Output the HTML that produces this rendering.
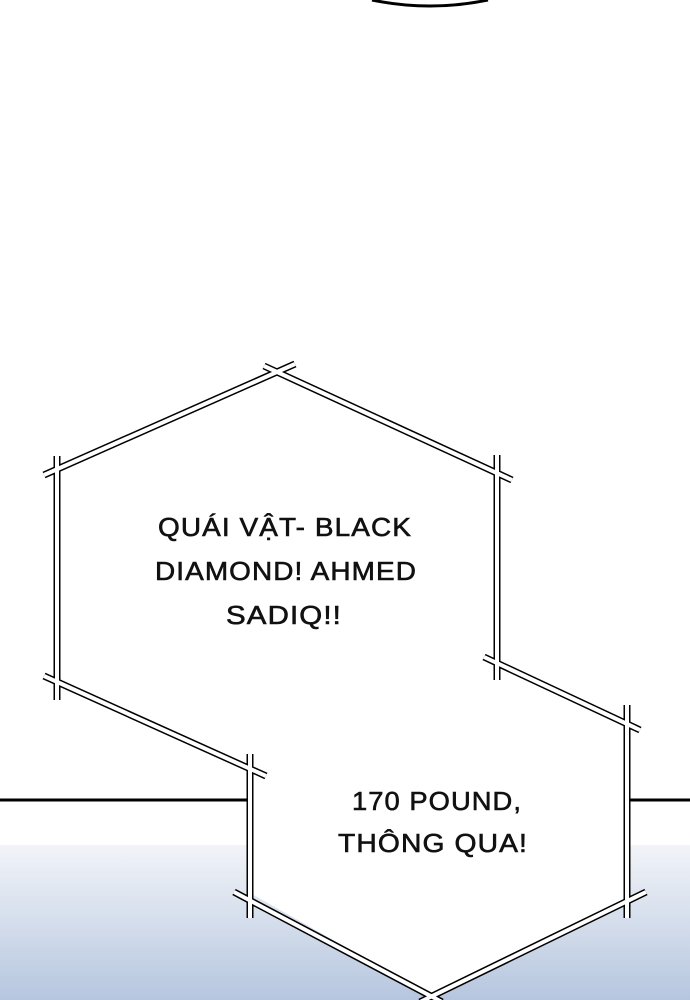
<!DOCTYPE html>
<html><head><meta charset="utf-8"><style>html,body{margin:0;padding:0;width:690px;height:1000px;overflow:hidden;background:#fff}</style></head>
<body>
<svg width="690" height="1000" viewBox="0 0 690 1000" xmlns="http://www.w3.org/2000/svg">
<defs>
<linearGradient id="bg" x1="0" y1="0" x2="0" y2="1">
<stop offset="0" stop-color="#f2f4f9"/><stop offset="0.4" stop-color="#dae2ee"/><stop offset="1" stop-color="#b6c6df"/>
</linearGradient>
</defs>
<rect x="0" y="0" width="690" height="1000" fill="#fff"/>
<rect x="0" y="845" width="690" height="155" fill="url(#bg)"/>
<path d="M372 0 Q430 12 488 0" fill="none" stroke="#000" stroke-width="3"/>
<line x1="0" y1="800" x2="250" y2="800" stroke="#000" stroke-width="3"/>
<line x1="627" y1="800" x2="690" y2="800" stroke="#000" stroke-width="3"/>
<polygon points="57,468 277,372 497,468 497,670 627,730 627,905 430,995 250,893 250,775 57,688" fill="#fff"/>
<g fill="none" stroke-linecap="butt">
<g stroke="#000" stroke-width="7">
<line x1="44" y1="475" x2="295" y2="364"/>
<line x1="264" y1="366" x2="512" y2="480"/>
<line x1="57" y1="456" x2="57" y2="700"/>
<line x1="497" y1="455" x2="497" y2="680"/>
<line x1="44" y1="676" x2="266" y2="776"/>
<line x1="484" y1="657" x2="640" y2="730"/>
<line x1="250" y1="754" x2="250" y2="918"/>
<line x1="627" y1="705" x2="627" y2="918"/>
<line x1="234" y1="892" x2="442" y2="1002"/>
<line x1="646" y1="892" x2="420" y2="1002"/>
</g>
<g stroke="#fff" stroke-width="4">
<line x1="44" y1="475" x2="295" y2="364"/>
<line x1="264" y1="366" x2="512" y2="480"/>
<line x1="57" y1="456" x2="57" y2="700"/>
<line x1="497" y1="455" x2="497" y2="680"/>
<line x1="44" y1="676" x2="266" y2="776"/>
<line x1="484" y1="657" x2="640" y2="730"/>
<line x1="250" y1="754" x2="250" y2="918"/>
<line x1="627" y1="705" x2="627" y2="918"/>
<line x1="234" y1="892" x2="442" y2="1002"/>
<line x1="646" y1="892" x2="420" y2="1002"/>
</g>
</g>
<g font-family="Liberation Sans, sans-serif" font-size="26" fill="#111" stroke="#111" stroke-width="0.6" letter-spacing="1">
<text x="158" y="536" textLength="254" lengthAdjust="spacingAndGlyphs">QUÁI VẬT- BLACK</text>
<text x="155" y="580" textLength="262" lengthAdjust="spacingAndGlyphs">DIAMOND! AHMED</text>
<text x="226" y="624" textLength="116" lengthAdjust="spacingAndGlyphs">SADIQ!!</text>
<text x="352" y="810" textLength="170" lengthAdjust="spacingAndGlyphs">170 POUND,</text>
<text x="338" y="852" textLength="190" lengthAdjust="spacingAndGlyphs">THÔNG QUA!</text>
</g>
</svg>
</body></html>
